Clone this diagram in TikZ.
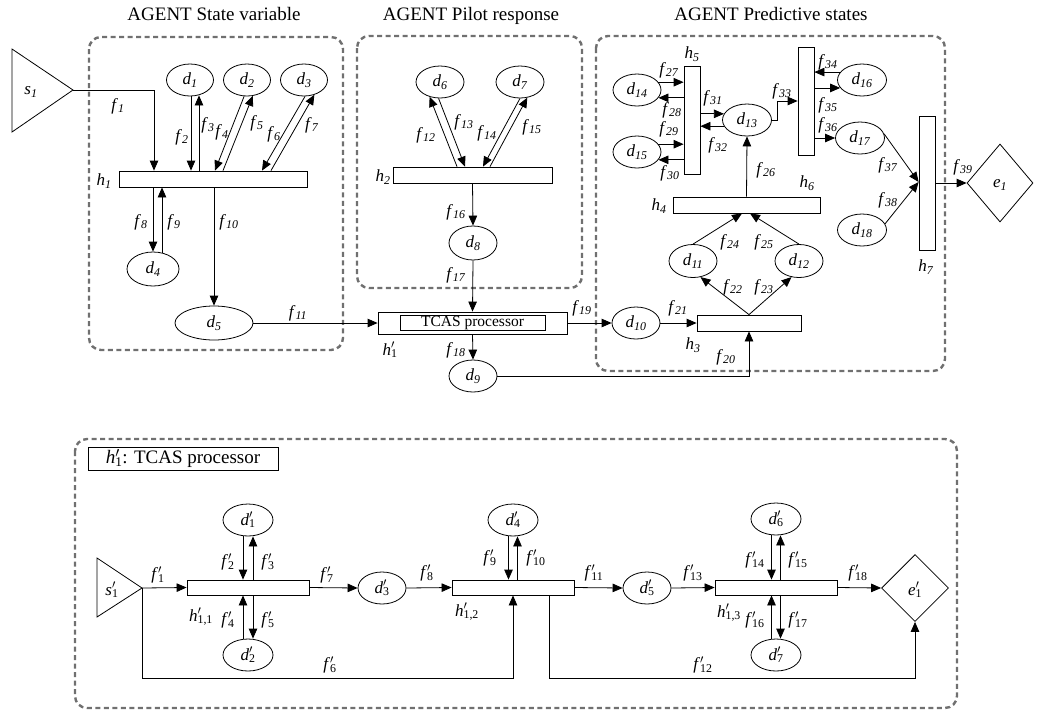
\documentclass[tikz,border=0pt]{standalone}
\usepackage{fontspec}
\setmainfont{Liberation Serif}
\usetikzlibrary{arrows.meta,shapes.geometric}
\definecolor{grpc}{RGB}{112,112,112}
\newcommand{\iv}[2]{\textit{#1}\textsubscript{\textit{#2}}}
\newcommand{\pv}[2]{\textit{#1}\rlap{\textsuperscript{$\prime$}}\textsubscript{#2}}
\begin{document}
\begin{tikzpicture}[x=1pt,y=-1pt,
  lab/.style={font=\fontsize{17}{19}\selectfont, inner sep=0pt},
  head/.style={font=\fontsize{19}{22}\selectfont, inner sep=0pt, anchor=base},
  ell/.style={draw, ellipse, line width=0.8pt, minimum width=48pt, minimum height=32pt, inner sep=0pt, font=\fontsize{17}{19}\selectfont},
  hbox/.style={draw, rectangle, line width=0.8pt, inner sep=0pt},
  dia/.style={draw, diamond, line width=0.8pt, inner sep=0pt, font=\fontsize{17}{19}\selectfont},
  ln/.style={line width=0.8pt},
  arr/.style={line width=0.8pt, -{Triangle[length=10pt,width=8.5pt]}},
  grp/.style={draw=grpc, line width=2.4pt, dash pattern=on 5pt off 3.5pt, rounded corners=12pt}]
\useasboundingbox (0,0) rectangle (1038,710);

% headings
\node[head] (t1) at (214,20) {AGENT State variable};
\node[head] (t2) at (471,20) {AGENT Pilot response};
\node[head] (t3) at (771,20) {AGENT Predictive states};

% group frames
\draw[grp] (89,37) rectangle (343,350);
\draw[grp] (357,36) rectangle (582,288);
\draw[grp] (596,36) rectangle (945,371);
\draw[grp] (75,439) rectangle (957,708);

% ---------- top ----------
\draw[ln] (12,49) -- (73,90) coordinate (s1) -- (12,132) -- cycle;
\node[lab] (ls1) at (31,92) {\iv{s}{1}};

\node[hbox, minimum width=188pt, minimum height=16pt] (h1) at (213,179) {};
\node[lab] (lh1) at (104,181) {\iv{h}{1}};
\node[ell, minimum width=47pt] (d1) at (190,80) {\iv{d}{1}};
\node[ell, minimum width=47pt] (d2) at (247,80) {\iv{d}{2}};
\node[ell, minimum width=47pt] (d3) at (304,80) {\iv{d}{3}};
\node[ell, minimum width=52pt, minimum height=34pt] (d4) at (153,269) {\iv{d}{4}};
\node[ell, minimum width=78pt, minimum height=34pt] (d5) at (214,323) {\iv{d}{5}};

\node[hbox, minimum width=159pt, minimum height=16pt] (h2) at (472.5,175) {};
\node[lab] (lh2) at (383,177) {\iv{h}{2}};
\node[ell] (d6) at (440,82) {\iv{d}{6}};
\node[ell] (d7) at (520,82) {\iv{d}{7}};
\node[ell, minimum height=34pt] (d8) at (473,243) {\iv{d}{8}};

\node[hbox, minimum width=189pt, minimum height=22pt] (tcas) at (472.5,323) {};
\node[hbox, minimum width=145pt, minimum height=15pt, font=\fontsize{15.5}{17}\selectfont] (tcasin) at (tcas) {TCAS processor};
\node[lab] (lh1p) at (390,350) {\pv{h}{1}};
\node[ell] (d9) at (473,376) {\iv{d}{9}};
\node[ell] (d10) at (636,323) {\iv{d}{10}};

\node[hbox, minimum width=104pt, minimum height=16pt] (h3) at (749,323) {};
\node[lab] (lh3) at (693,345) {\iv{h}{3}};
\node[ell, minimum height=33pt] (d11) at (693,261) {\iv{d}{11}};
\node[ell, minimum height=33pt] (d12) at (799,261) {\iv{d}{12}};
\node[hbox, minimum width=147pt, minimum height=16pt] (h4) at (746.5,205) {};
\node[lab] (lh4) at (659,206) {\iv{h}{4}};
\node[ell, minimum width=49pt] (d13) at (747,120) {\iv{d}{13}};
\node[hbox, minimum width=16pt, minimum height=108pt] (h5) at (692,120) {};
\node[lab] (lh5) at (692,54) {\iv{h}{5}};
\node[ell] (d14) at (637,90) {\iv{d}{14}};
\node[ell] (d15) at (637,152) {\iv{d}{15}};
\node[hbox, minimum width=16pt, minimum height=108pt] (h6) at (806,101) {};
\node[lab] (lh6) at (807,183) {\iv{h}{6}};
\node[ell, minimum width=49pt] (d16) at (862,80) {\iv{d}{16}};
\node[ell, minimum width=49pt] (d17) at (860,138) {\iv{d}{17}};
\node[ell, minimum width=49pt] (d18) at (862,230) {\iv{d}{18}};
\node[hbox, minimum width=16pt, minimum height=134pt] (h7) at (927,183) {};
\node[lab] (lh7) at (926,267) {\iv{h}{7}};
\node[dia, minimum width=66pt, minimum height=78pt] (e1) at (1000,183) {};
\node[lab] (le1) at (1000,185) {\iv{e}{1}};

% top connectors
\draw[arr] (s1) -| ([xshift=-59pt]h1.north);
\draw[arr] ([xshift=1pt]d1.south) -- ([xshift=-22pt]h1.north);
\draw[arr] ([xshift=-14pt]h1.north) -- ([xshift=9pt,yshift=1pt]d1.south);
\draw[arr] (d2.-100) -- ([xshift=2pt]h1.north);
\draw[arr] ([xshift=10pt]h1.north) -- (d2.-70);
\draw[arr] ([xshift=1pt]d3.south) -- ([xshift=49pt]h1.north);
\draw[arr] ([xshift=58pt]h1.north) -- (d3.-55);
\draw[arr] ([xshift=-60pt]h1.south) -- (d4.north);
\draw[arr] ([xshift=9pt,yshift=-1pt]d4.north) -- ([xshift=-51pt]h1.south);
\draw[arr] ([xshift=1pt]h1.south) -- (d5.north);
\draw[arr] (d5.east) -- (tcas.west);
\draw[arr] ([xshift=-15.5pt]h2.north) -- (d6.-125);
\draw[arr] (d6.-95) -- ([xshift=-7.5pt]h2.north);
\draw[arr] (d7.-90) -- ([xshift=10.5pt]h2.north);
\draw[arr] ([xshift=17.5pt]h2.north) -- (d7.-65);
\draw[arr] (h2.south) -- (d8.north);
\draw[arr] (d8.south) -- (tcas.north);
\draw[arr] (tcas.south) -- (d9.north);
\draw[arr] (tcas.east) -- (d10.west);
\draw[arr] (d9.east) -| (h3.south);
\draw[arr] (d10.east) -- (h3.west);
\draw[arr] (h3.north) -- (d11.-65);
\draw[arr] (h3.north) -- (d12.-115);
\draw[arr] (d11.north) -- ([xshift=-4.5pt]h4.south);
\draw[arr] (d12.north) -- ([xshift=3.5pt]h4.south);
\draw[arr] (h4.north) -- (d13.south);
\draw[arr] (d14.20) -- (d14.20 -| h5.west);
\draw[arr] (h5.west |- d14.-20) -- (d14.-20);
\draw[arr] (d15.20) -- (d15.20 -| h5.west);
\draw[arr] (h5.west |- d15.-20) -- (d15.-20);
\draw[arr] (h5.east |- d13.165) -- (d13.165);
\draw[arr] (d13.195) -- (d13.195 -| h5.east);
\draw[arr] (d13.east) -- ++(5,0) |- (h6.west);
\draw[arr] (d16.160) -- (d16.160 -| h6.east);
\draw[arr] (h6.east |- d16.200) -- (d16.200);
\draw[arr] (h6.east |- d17.west) -- (d17.west);
\draw[arr] (d17.10) -- ([yshift=1pt]h7.west);
\draw[arr] (d18.15) -- ([yshift=1pt]h7.west);
\draw[arr] (h7.east) -- (e1.west);

% top labels
\node[lab] (lf1) at (118,106) {\iv{f}{1}};
\node[lab] (lf2) at (182,137) {\iv{f}{2}};
\node[lab] (lf3) at (208,125) {\iv{f}{3}};
\node[lab] (lf4) at (222,132) {\iv{f}{4}};
\node[lab] (lf5) at (257,123) {\iv{f}{5}};
\node[lab] (lf6) at (274,134) {\iv{f}{6}};
\node[lab] (lf7) at (312,125) {\iv{f}{7}};
\node[lab] (lf8) at (141,222) {\iv{f}{8}};
\node[lab] (lf9) at (174,222) {\iv{f}{9}};
\node[lab] (lf10) at (229,222) {\iv{f}{10}};
\node[lab] (lf11) at (298,313) {\iv{f}{11}};
\node[lab] (lf12) at (426,135) {\iv{f}{12}};
\node[lab] (lf13) at (464,122) {\iv{f}{13}};
\node[lab] (lf14) at (487,133) {\iv{f}{14}};
\node[lab] (lf15) at (532,127) {\iv{f}{15}};
\node[lab] (lf16) at (456,212) {\iv{f}{16}};
\node[lab] (lf17) at (456,275) {\iv{f}{17}};
\node[lab] (lf18) at (456,350) {\iv{f}{18}};
\node[lab] (lf19) at (582,308) {\iv{f}{19}};
\node[lab] (lf20) at (726,357) {\iv{f}{20}};
\node[lab] (lf21) at (678,308) {\iv{f}{21}};
\node[lab] (lf22) at (733,287) {\iv{f}{22}};
\node[lab] (lf23) at (764,287) {\iv{f}{23}};
\node[lab] (lf24) at (730,242) {\iv{f}{24}};
\node[lab] (lf25) at (764,242) {\iv{f}{25}};
\node[lab] (lf26) at (766,170) {\iv{f}{26}};
\node[lab] (lf27) at (669,70) {\iv{f}{27}};
\node[lab] (lf28) at (672,110) {\iv{f}{28}};
\node[lab] (lf29) at (669,129) {\iv{f}{29}};
\node[lab] (lf30) at (670,173) {\iv{f}{30}};
\node[lab] (lf31) at (713,98) {\iv{f}{31}};
\node[lab] (lf32) at (718,145) {\iv{f}{32}};
\node[lab] (lf33) at (782,91) {\iv{f}{33}};
\node[lab] (lf34) at (828,62) {\iv{f}{34}};
\node[lab] (lf35) at (828,105) {\iv{f}{35}};
\node[lab] (lf36) at (828,125) {\iv{f}{36}};
\node[lab] (lf37) at (888,165) {\iv{f}{37}};
\node[lab] (lf38) at (888,200) {\iv{f}{38}};
\node[lab] (lf39) at (963,167) {\iv{f}{39}};

% ---------- bottom ----------
\node[hbox, minimum width=190pt, minimum height=23pt, font=\fontsize{19}{22}\selectfont] (ttl) at (183,458.5) {\pv{h}{1}: TCAS processor};
\draw[ln] (97,558) -- (142,588) coordinate (s1p) -- (97,617) -- cycle;
\node[lab] (ls1p) at (112,590) {\pv{s}{1}};
\coordinate (low) at (0,678);

\node[hbox, minimum width=122pt, minimum height=15pt] (h11) at (248,587.5) {};
\node[hbox, minimum width=122pt, minimum height=15pt] (h12) at (513,587.5) {};
\node[hbox, minimum width=122pt, minimum height=15pt] (h13) at (776,587.5) {};
\node[lab] (lh11) at (201,617) {\pv{h}{1,1}};
\node[lab] (lh12) at (467,612) {\pv{h}{1,2}};
\node[lab] (lh13) at (729,613) {\pv{h}{1,3}};
\node[ell, minimum width=50pt] (d1p) at (248,520) {\pv{d}{1}};
\node[ell, minimum width=50pt] (d2p) at (248,655) {\pv{d}{2}};
\node[ell] (d3p) at (382,588) {\pv{d}{3}};
\node[ell, minimum width=50pt] (d4p) at (513,520) {\pv{d}{4}};
\node[ell] (d5p) at (647,588) {\pv{d}{5}};
\node[ell, minimum width=50pt] (d6p) at (776,519) {\pv{d}{6}};
\node[ell, minimum width=50pt] (d7p) at (776,655) {\pv{d}{7}};
\node[dia, minimum width=67pt, minimum height=67pt] (e1p) at (915,588) {};
\node[lab] (le1p) at (915,590) {\pv{e}{1}};

\draw[arr] (s1p) -- (h11.west);
\draw[arr] ([xshift=-5pt]d1p.south) -- ([xshift=-5pt]h11.north);
\draw[arr] ([xshift=5pt]h11.north) -- ([xshift=5pt]d1p.south);
\draw[arr] ([xshift=-5pt]d2p.north) -- ([xshift=-5pt]h11.south);
\draw[arr] ([xshift=5pt]h11.south) -- ([xshift=5pt]d2p.north);
\draw[arr] (s1p) |- (low -| h12.south) -- (h12.south);
\draw[arr] (h11.east) -- (d3p.west);
\draw[arr] (d3p.east) -- (h12.west);
\draw[arr] ([xshift=-4.5pt]d4p.south) -- ([xshift=-4.5pt]h12.north);
\draw[arr] ([xshift=4.5pt]h12.north) -- ([xshift=4.5pt]d4p.south);
\draw[arr] (h12.east) -- (d5p.west);
\draw[arr] ([xshift=36pt]h12.south) |- (low -| e1p.south) -- (e1p.south);
\draw[arr] (d5p.east) -- (h13.west);
\draw[arr] ([xshift=-4.5pt]d6p.south) -- ([xshift=-4.5pt]h13.north);
\draw[arr] ([xshift=4.5pt]h13.north) -- ([xshift=4.5pt]d6p.south);
\draw[arr] ([xshift=-4.5pt]d7p.north) -- ([xshift=-4.5pt]h13.south);
\draw[arr] ([xshift=4.5pt]h13.south) -- ([xshift=4.5pt]d7p.north);
\draw[arr] (h13.east) -- (e1p.west);

\node[lab] (lf1p) at (158,575) {\pv{f}{1}};
\node[lab] (lf2p) at (228,562) {\pv{f}{2}};
\node[lab] (lf3p) at (268,562) {\pv{f}{3}};
\node[lab] (lf4p) at (228,620) {\pv{f}{4}};
\node[lab] (lf5p) at (268,620) {\pv{f}{5}};
\node[lab] (lf6p) at (330,665) {\pv{f}{6}};
\node[lab] (lf7p) at (327,575) {\pv{f}{7}};
\node[lab] (lf8p) at (427,573) {\pv{f}{8}};
\node[lab] (lf9p) at (490,558) {\pv{f}{9}};
\node[lab] (lf10p) at (536,558) {\pv{f}{10}};
\node[lab] (lf11p) at (594,573) {\pv{f}{11}};
\node[lab] (lf12p) at (703,665) {\pv{f}{12}};
\node[lab] (lf13p) at (693,573) {\pv{f}{13}};
\node[lab] (lf14p) at (755,560) {\pv{f}{14}};
\node[lab] (lf15p) at (798,560) {\pv{f}{15}};
\node[lab] (lf16p) at (755,620) {\pv{f}{16}};
\node[lab] (lf17p) at (798,620) {\pv{f}{17}};
\node[lab] (lf18p) at (858,573) {\pv{f}{18}};
\end{tikzpicture}
\end{document}
